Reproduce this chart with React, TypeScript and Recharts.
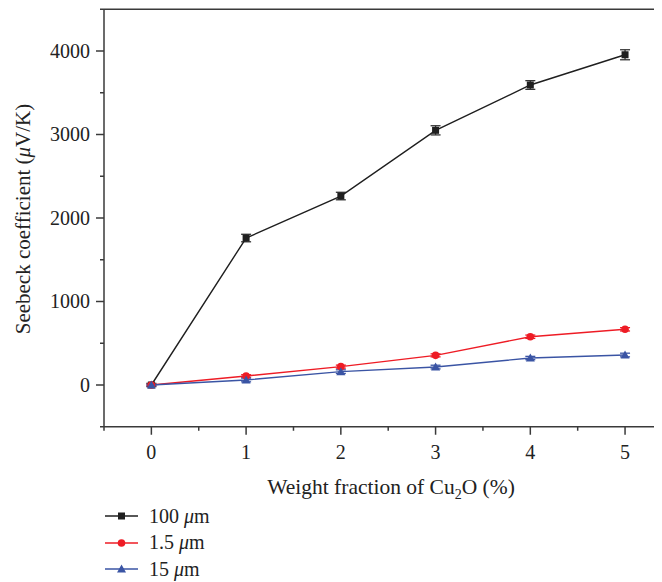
import React from "react";
import {
  LineChart,
  Line,
  XAxis,
  YAxis,
  ErrorBar,
  Legend,
  Label,
  ReferenceLine,
} from "recharts";

const weights = [0, 1, 2, 3, 4, 5];
const s100 = [0, 1760, 2263, 3050, 3593, 3955];
const err100 = [20, 45, 45, 55, 52, 60];
const s1p5 = [0, 108, 220, 355, 578, 667];
const err1p5 = [10, 15, 18, 18, 20, 20];
const s15 = [0, 60, 160, 215, 323, 359];
const err15 = [10, 22, 22, 22, 20, 22];

const xTicks = [-0.5, 0, 0.5, 1, 1.5, 2, 2.5, 3, 3.5, 4, 4.5, 5];
const yTicks = [-500, 0, 500, 1000, 1500, 2000, 2500, 3000, 3500, 4000, 4500];

const names = ["100 μm", "1.5 μm", "15 μm"];
const colors = ["#1f1f1f", "#ee1c25", "#3a54a4"];
const shapes = ["square", "circle", "triangle"];

const data = weights.map((w, i) => ({
  w,
  a: s100[i],
  ea: err100[i],
  b: s1p5[i],
  eb: err1p5[i],
  c: s15[i],
  ec: err15[i],
}));

const FONT = "'Liberation Serif', 'DejaVu Serif', serif";
const AXIS = "#3a3a3a";

function Marker({ cx, cy, shape, color }: any) {
  if (cx == null || cy == null) return null;
  if (shape === "square")
    return <rect x={cx - 3.5} y={cy - 3.5} width={7} height={7} fill={color} />;
  if (shape === "circle") return <circle cx={cx} cy={cy} r={3.8} fill={color} />;
  return (
    <polygon
      points={`${cx},${cy - 4.5} ${cx + 4.5},${cy + 3.5} ${cx - 4.5},${cy + 3.5}`}
      fill={color}
    />
  );
}

function XTick({ x, y, payload }: any) {
  const v = payload.value;
  const major = Number.isInteger(v);
  return (
    <g>
      <line x1={x} x2={x} y1={y} y2={y + (major ? 8 : 4)} stroke={AXIS} strokeWidth={1.5} />
      {major && (
        <text x={x} y={y + 32} textAnchor="middle" fontSize={20} fill="#222" fontFamily={FONT}>
          {v}
        </text>
      )}
    </g>
  );
}

function YTick({ x, y, payload }: any) {
  const v = payload.value;
  const major = v % 1000 === 0;
  return (
    <g>
      <line x1={x} x2={x - (major ? 8 : 4)} y1={y} y2={y} stroke={AXIS} strokeWidth={1.5} />
      {major && (
        <text x={x - 14} y={y + 6.5} textAnchor="end" fontSize={20} fill="#222" fontFamily={FONT}>
          {v}
        </text>
      )}
    </g>
  );
}

function LegendBox() {
  return (
    <div style={{ fontFamily: FONT, fontSize: 20, color: "#222" }}>
      {names.map((n, i) => (
        <div key={n} style={{ display: "flex", alignItems: "center", height: 26.5 }}>
          <svg width={44} height={20}>
            <line x1={0} x2={33} y1={10} y2={10} stroke={colors[i]} strokeWidth={1.5} />
            <Marker cx={16.5} cy={10} shape={shapes[i]} color={colors[i]} />
          </svg>
          <span>
            {n.split(" ")[0]} <i>μ</i>m
          </span>
        </div>
      ))}
    </div>
  );
}

export default function App() {
  const keys = ["a", "b", "c"];
  const errKeys = ["ea", "eb", "ec"];
  return (
    <div style={{ position: "relative", width: 654, height: 574 }}>
      <LineChart
        width={654}
        height={574}
        data={data}
        margin={{ top: 1.25, right: 0, bottom: 0, left: 0 }}
      >
        <XAxis
          dataKey="w"
          type="number"
          domain={[-0.5, 5.39]}
          ticks={xTicks}
          allowDataOverflow
          height={155.25}
          tickLine={false}
          tickSize={0}
          tickMargin={0}
          tick={<XTick />}
          stroke={AXIS}
          strokeWidth={1.5}
          interval={0}
        >
          <Label
            content={({ viewBox }: any) => (
              <text
                x={viewBox.x + viewBox.width / 2 + 8}
                y={viewBox.y + 67}
                textAnchor="middle"
                fontSize={21.5}
                fill="#222"
                fontFamily={FONT}
              >
                Weight fraction of Cu
                <tspan fontSize={14} dy={5}>2</tspan>
                <tspan dy={-5}>O (%)</tspan>
              </text>
            )}
          />
        </XAxis>
        <YAxis
          type="number"
          domain={[-500, 4500]}
          ticks={yTicks}
          width={96}
          tickLine={false}
          tickSize={0}
          tickMargin={0}
          tick={<YTick />}
          stroke={AXIS}
          strokeWidth={1.5}
          interval={0}
        >
          <Label
            content={({ viewBox }: any) => {
              const cx = 15;
              const cy = viewBox.y + viewBox.height / 2 + 1;
              return (
                <text
                  x={cx}
                  y={cy}
                  transform={`rotate(-90 ${cx} ${cy})`}
                  textAnchor="middle"
                  dominantBaseline="central"
                  fontSize={21}
                  fill="#222"
                  fontFamily={FONT}
                >
                  Seebeck coefficient (<tspan fontStyle="italic">μ</tspan>V/K)
                </text>
              );
            }}
          />
        </YAxis>
        <ReferenceLine y={4500} stroke={AXIS} strokeWidth={1.5} ifOverflow="extendDomain" />
        {keys.map((k, i) => (
          <Line
            key={k}
            dataKey={k}
            name={names[i]}
            stroke={colors[i]}
            strokeWidth={1.4}
            isAnimationActive={false}
            dot={(p: any) => <Marker key={p.index} cx={p.cx} cy={p.cy} shape={shapes[i]} color={colors[i]} />}
            activeDot={false}
          >
            <ErrorBar dataKey={errKeys[i]} width={5} stroke={i === 0 ? "#333" : colors[i]} strokeWidth={1.3} />
          </Line>
        ))}
        <Legend
          layout="horizontal"
          verticalAlign="middle"
          align="center"
          wrapperStyle={{ left: 97, top: 495, width: 200 }}
          content={() => <LegendBox />}
        />
      </LineChart>
    </div>
  );
}
